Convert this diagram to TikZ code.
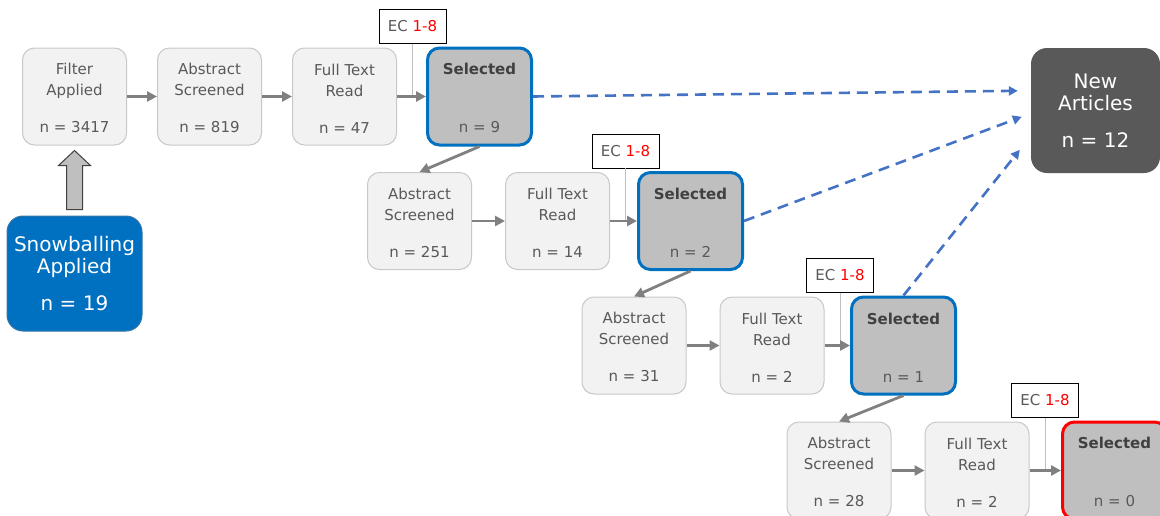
\documentclass[tikz,border=0pt]{standalone}
\usepackage{fontspec}
\setmainfont{DejaVu Sans}
\usetikzlibrary{arrows.meta,calc}

\definecolor{boxfill}{HTML}{F2F2F2}
\definecolor{boxline}{HTML}{C8C8C8}
\definecolor{boxtext}{HTML}{595959}
\definecolor{seltext}{HTML}{404040}
\definecolor{selfill}{HTML}{BFBFBF}
\definecolor{selblue}{HTML}{0070C0}
\definecolor{flowgray}{HTML}{808080}
\definecolor{dashblue}{HTML}{4472C4}
\definecolor{ecred}{HTML}{FF0000}
\definecolor{newfill}{HTML}{595959}
\definecolor{fatfill}{HTML}{BFBFBF}
\definecolor{fatline}{HTML}{404040}
\definecolor{ecstem}{HTML}{BFBFBF}

% extra room above the first line of a stage label
\newcommand{\toproom}{\rule{0pt}{15pt}}

\begin{document}
\begin{tikzpicture}[x=1pt,y=-1pt,
  stage/.style={draw=boxline, line width=1pt, fill=boxfill, rounded corners=12pt,
    minimum width=104pt, minimum height=97pt, inner sep=0pt, align=center,
    text=boxtext, font=\fontsize{15}{21}\selectfont},
  selected/.style={stage, draw=selblue, line width=3pt, fill=selfill},
  lastselected/.style={selected, draw=ecred},
  ecbox/.style={draw=black, line width=0.8pt, fill=white, minimum width=67pt,
    minimum height=34pt, inner sep=0pt, font=\fontsize{15}{17}\selectfont, text=boxtext},
  ecstemline/.style={draw=ecstem, line width=1pt},
  flow/.style={draw=flowgray, line width=2.8pt, -{Triangle[length=10pt,width=10pt]}},
  feed/.style={draw=dashblue, line width=2.6pt, dash pattern=on 11pt off 7pt,
    -{Triangle[length=9pt,width=9pt]}},
  bigbox/.style={rounded corners=16pt, inner sep=0pt, align=center, text=white,
    font=\fontsize{20}{22}\selectfont},
  fatarrow/.style={draw=fatline, line width=1pt, fill=fatfill, line join=miter}
]
\useasboundingbox (0,0) rectangle (1160,515);
\clip (0,0) rectangle (1160,515);

% ---- first round of screening ----
\node[stage] (filter) at (74.5,96.5) {\toproom Filter\\Applied\\[16pt]n = 3417};
\node[stage] (abs1) at (209.5,96.5) {\toproom Abstract\\Screened\\[16pt]n = 819};
\node[stage] (ft1) at (344.5,96.5) {\toproom Full Text\\Read\\[16pt]n = 47};
\node[selected] (sel1) at (479.5,96.5) {\toproom\textcolor{seltext}{\textbf{Selected}}\\[37pt]n = 9};

% ---- second round ----
\node[stage] (abs2) at (419.5,221) {\toproom Abstract\\Screened\\[16pt]n = 251};
\node[stage] (ft2) at (557.5,221) {\toproom Full Text\\Read\\[16pt]n = 14};
\node[selected] (sel2) at (690.5,221) {\toproom\textcolor{seltext}{\textbf{Selected}}\\[37pt]n = 2};

% ---- third round ----
\node[stage] (abs3) at (634,345.5) {\toproom Abstract\\Screened\\[16pt]n = 31};
\node[stage] (ft3) at (772,345.5) {\toproom Full Text\\Read\\[16pt]n = 2};
\node[selected] (sel3) at (903.5,345.5) {\toproom\textcolor{seltext}{\textbf{Selected}}\\[37pt]n = 1};

% ---- fourth round ----
\node[stage] (abs4) at (839,470.5) {\toproom Abstract\\Screened\\[16pt]n = 28};
\node[stage] (ft4) at (977,470.5) {\toproom Full Text\\Read\\[16pt]n = 2};
\node[lastselected] (sel4) at (1114.5,470.5) {\toproom\textcolor{seltext}{\textbf{Selected}}\\[37pt]n = 0};

% ---- start and result boxes ----
\node[bigbox, fill=selblue, draw=selblue!60!gray, line width=1pt,
  minimum width=135pt, minimum height=115pt] (snow) at (74.5,273.5)
  {Snowballing\\Applied\\[15pt]n = 19};
\node[bigbox, fill=newfill, minimum width=129pt, minimum height=125pt]
  (newart) at (1095.5,110.5) {New\\Articles\\[15pt]n = 12};

% ---- exclusion criteria tags ----
\foreach \r in {1,2,3,4}{
  \node[ecbox] (ec\r) at ($(ft\r.east)+(15.5,-70)$)
    {EC \textcolor{ecred}{1-8}};
  \path[ecstemline] (ec\r.south) -- (ec\r.south |- ft\r.east);
}

% ---- flow within each round ----
\foreach \r in {1,2,3,4}{
  \draw[flow] (abs\r) -- (ft\r);
  \draw[flow] (ft\r) -- (sel\r);
}
\draw[flow] (filter) -- (abs1);

% ---- hand-over between rounds ----
\draw[flow] (sel1.south) -- (abs2.north);
\draw[flow] (sel2.south) -- (abs3.north);
\draw[flow] (sel3.south) -- (abs4.north);

% ---- selected articles feeding the result ----
\coordinate (in1) at ($(newart.north west)+(-13,43)$);
\coordinate (in2) at ($(newart.north west)+(-9,69)$);
\coordinate (in3) at ($(newart.north west)+(-11,102)$);
\draw[feed] (sel1.east) -- (in1);
\draw[feed] (sel2.east) -- (in2);
\draw[feed] (sel3.north) -- (in3);

% ---- block arrow from snowballing up to the filter ----
\coordinate (fatbase) at ($(snow.north)+(0,-6)$);
\coordinate (fattip) at ($(filter.south)+(0,5)$);
\draw[fatarrow] ($(fatbase)+(-8,0)$) -- ($(fatbase)+(8,0)$)
  -- ($(fattip)+(8,15)$) -- ($(fattip)+(16,15)$) -- (fattip)
  -- ($(fattip)+(-16,15)$) -- ($(fattip)+(-8,15)$) -- cycle;
\end{tikzpicture}
\end{document}
